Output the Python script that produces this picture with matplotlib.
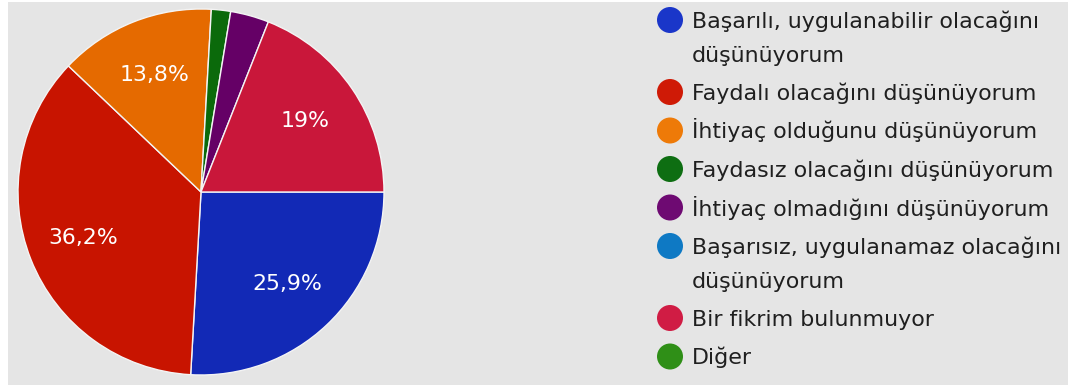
import matplotlib
matplotlib.use("Agg")
import matplotlib.pyplot as plt
from matplotlib.patches import Rectangle, Circle

# Survey answers and their shares (percent)
categories = [
    "Başarılı, uygulanabilir olacağını\ndüşünüyorum",
    "Faydalı olacağını düşünüyorum",
    "İhtiyaç olduğunu düşünüyorum",
    "Faydasız olacağını düşünüyorum",
    "İhtiyaç olmadığını düşünüyorum",
    "Başarısız, uygulanamaz olacağını\ndüşünüyorum",
    "Bir fikrim bulunmuyor",
    "Diğer",
]
shares = [25.9, 36.2, 13.8, 1.7, 3.4, 0.0, 19.0, 0.0]
slice_colors = ["#1229b6", "#c81400", "#e56a00", "#0b6a0b",
                "#650066", "#0b74c2", "#c9173a", "#2e8c12"]
legend_colors = ["#1a36c9", "#cf1a06", "#ee7a08", "#0e6e12",
                 "#6e0a72", "#0e79c4", "#d01c44", "#2f8f17"]

W, H = 1068, 385
fig = plt.figure(figsize=(W / 100, H / 100), dpi=100, facecolor="white")

# grey panel behind the chart
fig.patches.append(Rectangle((8 / W, 0), 1 - 8 / W, (H - 2) / H,
                             transform=fig.transFigure, facecolor="#e5e5e5",
                             edgecolor="none", zorder=-10))

# pie
cx, cy, r = 201, 193, 183
ax = fig.add_axes([(cx - r) / W, (cy - r) / H, 2 * r / W, 2 * r / H])
ax.set_facecolor("none")
vals = [v for v in shares if v > 0]
cols = [c for v, c in zip(shares, slice_colors) if v > 0]


def pct_label(p):
    if p < 5:
        return ""
    s = f"{p:.1f}".replace(".", ",")
    if s.endswith(",0"):
        s = s[:-2]
    return s + "%"


wedges, texts, autotexts = ax.pie(
    vals, colors=cols, startangle=0, counterclock=False, radius=1.0,
    autopct=pct_label, pctdistance=0.69,
    wedgeprops=dict(edgecolor="#f4f4f4", linewidth=1.0),
    textprops=dict(color="white", fontsize=15.8, family="DejaVu Sans"))
ax.set_xlim(-1, 1)
ax.set_ylim(-1, 1)
ax.set_aspect("equal")
ax.axis("off")

# legend drawn in pixel coordinates
lax = fig.add_axes([0, 0, 1, 1], zorder=5)
lax.set_xlim(0, W)
lax.set_ylim(H, 0)
lax.axis("off")
lax.set_facecolor("none")

text_x, dot_x = 692, 670
item_step, wrap_step = 38.5, 33.5
y = 20
for label, col in zip(categories, legend_colors):
    lax.add_patch(Circle((dot_x, y), 13, facecolor=col, edgecolor="none"))
    for i, line in enumerate(label.split("\n")):
        ly = y + i * wrap_step
        lax.text(text_x, ly + 8, line, fontsize=15.9, family="DejaVu Sans",
                 color="#1f1f1f", va="baseline", ha="left")
    y += item_step + wrap_step * label.count("\n")

fig.savefig("out.png", dpi=100, facecolor=fig.get_facecolor())
